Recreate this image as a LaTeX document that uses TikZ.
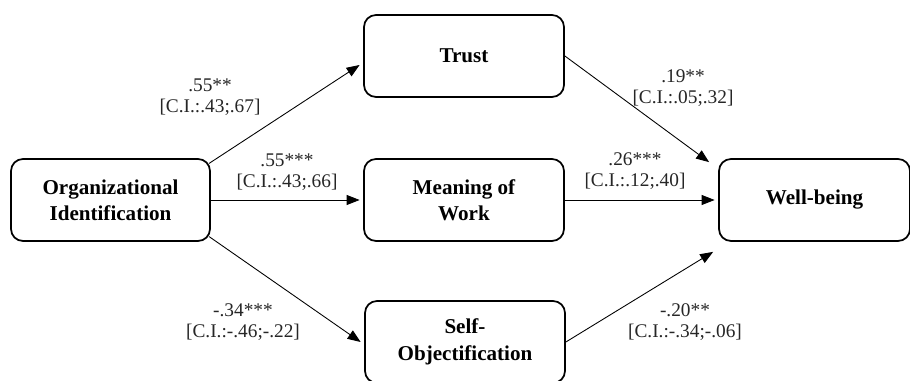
\documentclass[tikz,border=0pt]{standalone}
\usepackage{fontspec}
\setmainfont{Liberation Serif}
\usetikzlibrary{arrows.meta}

\begin{document}
\begin{tikzpicture}[
	varbox/.style={draw,line width=1pt,rounded corners=0.24cm,minimum width=4cm,minimum height=1.64cm,align=center,font=\bfseries\fontsize{12}{15}\selectfont},
	coef/.style={align=center,font=\fontsize{11}{12}\selectfont,text=black!85},
	effect/.style={line width=0.5pt,-{Triangle[length=0.26cm,width=0.2cm]}}
	]
	\useasboundingbox (0,0) rectangle (18.2,7.62);
	%BOXES
	\node[varbox,minimum width=3.98cm] (orgid) at (2.21,3.62) {Organizational\\Identification};
	\node[varbox] (trust) at (9.28,6.5) {Trust};
	\node[varbox] (meaning) at (9.28,3.62) {Meaning of\\Work};
	\node[varbox] (selfobj) at (9.3,0.78) {Self-\\Objectification};
	\node[varbox,minimum width=3.82cm] (wellbeing) at (16.29,3.62) {Well-being};
	%PATHS
	\draw[effect] ([xshift=-1pt,yshift=-3pt]orgid.north east) -- ([xshift=-2pt,yshift=-0.18cm]trust.west);
	\draw[effect] (orgid.east) -- ([xshift=-2pt]meaning.west);
	\draw[effect] ([xshift=-1pt,yshift=3pt]orgid.south east) -- ([xshift=-2pt]selfobj.west);
	\draw[effect] (trust.east) -- ([xshift=-0.18cm,yshift=-0.08cm]wellbeing.north west);
	\draw[effect] (meaning.east) -- ([xshift=-2pt]wellbeing.west);
	\draw[effect] (selfobj.east) -- ([xshift=-0.1cm,yshift=-0.2cm]wellbeing.south west);
	%LABELS
	\node[coef] (c1) at (4.2,5.67) {.55**\\{}[C.I.:.43;.67]};
	\node[coef] (c2) at (5.74,4.17) {.55***\\{}[C.I.:.43;.66]};
	\node[coef] (c3) at (4.86,1.17) {-.34***\\{}[C.I.:-.46;-.22]};
	\node[coef] (c4) at (13.66,5.85) {.19**\\{}[C.I.:.05;.32]};
	\node[coef] (c5) at (12.7,4.2) {.26***\\{}[C.I.:.12;.40]};
	\node[coef] (c6) at (13.7,1.17) {-.20**\\{}[C.I.:-.34;-.06]};
\end{tikzpicture}
\end{document}
